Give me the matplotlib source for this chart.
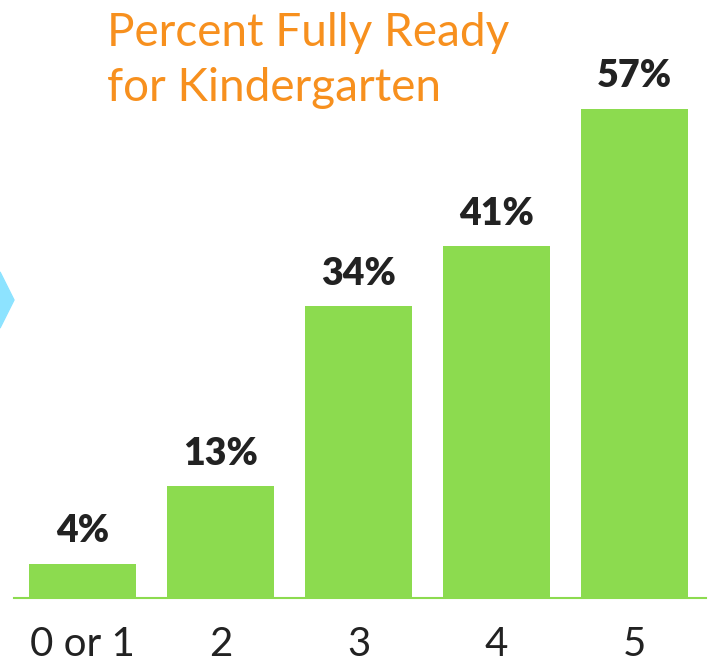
import matplotlib
matplotlib.use("Agg")
import matplotlib.pyplot as plt
from matplotlib.patches import Polygon

categories = ["0 or 1", "2", "3", "4", "5"]
values = [4, 13, 34, 41, 57]
value_labels = ["4%", "13%", "34%", "41%", "57%"]
title = "Percent Fully Ready\nfor Kindergarten"

green = "#8CDB4F"
orange = "#F7901E"

fig = plt.figure(figsize=(7.08, 6.68), dpi=100)
ax = fig.add_axes([14/708, 70/668, (706-14)/708, 598/668])
x = list(range(len(categories)))
ax.bar(x, values, width=0.77, color=green)
ax.set_xlim(-0.496, 4.518)
ax.set_ylim(0, 598/8.58)
for xi, v, lab in zip(x, values, value_labels):
    ax.text(xi, min(v + 2.5, 67.5), lab, ha="center", va="baseline", fontsize=27,
            fontweight="heavy", family="Lato", color="#222222")
for s in ["top", "right", "left"]:
    ax.spines[s].set_visible(False)
ax.spines["bottom"].set_color(green)
ax.spines["bottom"].set_linewidth(1.5)
ax.set_yticks([])
ax.set_xticks(x)
ax.set_xticklabels(categories, fontsize=29, family="Lato", color="#222222")
ax.tick_params(axis="x", length=0, pad=20)

fig.text(107/708, 1 - 12/668, title, ha="left", va="top", fontsize=33,
         family="Lato", color=orange, linespacing=1.38)

yc = 1 - 300/668
diamond = Polygon([(0, yc + 28/668), (14/708, yc), (0, yc - 28/668), (-14/708, yc)],
                  closed=True, transform=fig.transFigure, color="#8DE3FF", clip_on=False)
fig.patches.append(diamond)

fig.savefig("out.png", dpi=100)
